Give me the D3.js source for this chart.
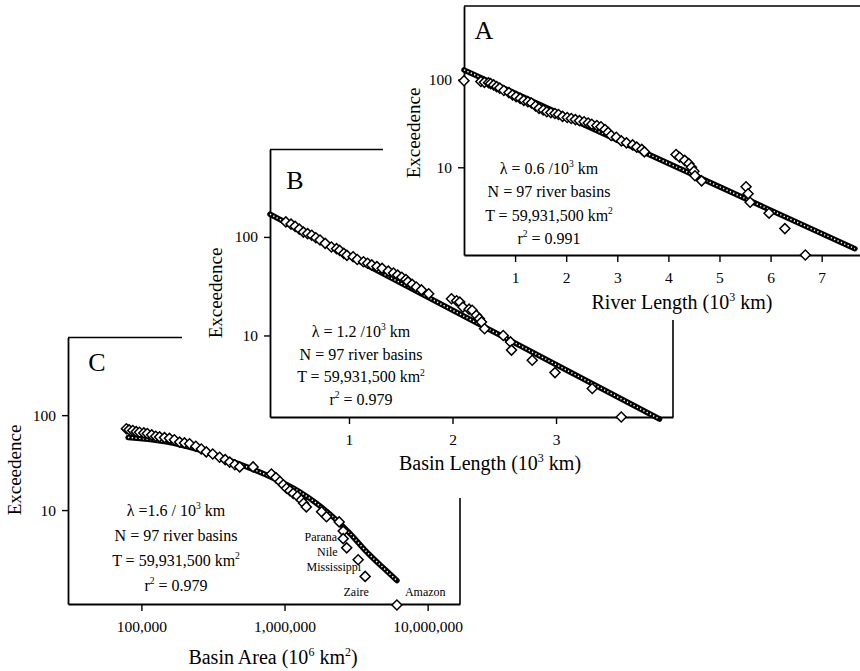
<!DOCTYPE html>
<html>
<head>
<meta charset="utf-8">
<script src="https://cdnjs.cloudflare.com/ajax/libs/d3/7.8.5/d3.min.js"></script>
<style>
body { margin: 0; background: white; }
svg { display: block; font-family: "Liberation Serif", "Times New Roman", serif; }
</style>
</head>
<body>
<svg width="860" height="671"></svg>
<script>
// ---- panel A : river length (10^3 km) vs exceedence
var riverLength = [0.00, 0.33, 0.40, 0.48, 0.52, 0.58, 0.64, 0.70, 0.78, 0.88, 0.95, 1.02, 1.10, 1.17, 1.25,
    1.32, 1.40, 1.47, 1.55, 1.62, 1.70, 1.78, 1.85, 1.93, 2.02, 2.10, 2.18, 2.26, 2.35, 2.43, 2.50, 2.60,
    2.68, 2.76, 2.82, 2.88, 2.98, 3.08, 3.18, 3.30, 3.38, 3.48, 3.53, 4.15, 4.22, 4.32, 4.40, 4.45, 4.50,
    4.52, 4.65, 5.52, 5.56, 5.60, 5.97, 6.28, 6.68]
var riverExceed = [97, 95, 93, 92, 90, 87, 83, 80, 75, 71, 67, 64, 61, 58, 56,
    54, 50, 47, 45, 43, 42, 41, 40, 38, 37, 36, 35, 34, 33, 32, 31, 30,
    29, 27, 25, 23, 22, 20, 19, 18, 17, 16, 15, 14, 13, 12, 11, 10, 9,
    8, 7, 6, 5, 4, 3, 2, 1]
var riverFitX = [0, 7.65]
var riverFitY = [129, 1.18]
var riverTicks = [1, 2, 3, 4, 5, 6, 7]

// ---- panel B : basin length (10^3 km)
var basinLength = [0.39, 0.44, 0.48, 0.52, 0.56, 0.60, 0.64, 0.68, 0.72, 0.77, 0.83, 0.88, 0.91, 0.95, 0.98,
    1.04, 1.08, 1.14, 1.18, 1.22, 1.27, 1.32, 1.38, 1.43, 1.47, 1.51, 1.55, 1.57, 1.61, 1.65, 1.70, 1.77,
    1.99, 2.04, 2.07, 2.10, 2.16, 2.19, 2.23, 2.26, 2.28, 2.31, 2.49, 2.56, 2.57, 2.77, 2.99, 3.35, 3.63]
var basinExceed = [142, 135, 128, 120, 112, 108, 104, 98, 93, 86, 79, 76, 73, 68, 65,
    63, 59, 56, 54, 52, 50, 48, 45, 43, 41, 39, 37, 35, 33, 31, 29, 26.5,
    23.6, 22.5, 21.8, 19.4, 18.5, 18, 16, 14.8, 13.7, 11.7, 10, 8.6, 7.1, 5.6, 4.2, 2.9, 1.49]
var basinFitX = [0.237, 4.0]
var basinFitY = [170, 1.42]
var basinTicks = [1, 2, 3]

// ---- panel C : basin area
var basinArea = [78500, 82000, 87000, 92000, 97000, 104000, 110000, 118000, 126000, 134000, 145000, 157000,
    170000, 185000, 200000, 217000, 240000, 262000, 284000, 315000, 352000, 385000, 414000, 450000, 486000,
    603000, 810000, 870000, 930000, 980000, 1033000, 1090000, 1150000, 1230000, 1310000, 1360000, 1420000,
    1815000, 1965000, 2410000, 2570000, 2570000, 2720000, 3270000, 3660000, 6100000]
var areaExceed = [72, 70, 69, 67, 66, 65, 64, 62, 60, 59, 58, 57,
    55, 52, 51, 50, 47, 44, 41, 39, 36, 34, 32, 30, 28.5,
    28.5, 24, 22, 20, 18.5, 17, 16, 15, 14, 12.8, 11.8, 10.8,
    9.6, 8.5, 7.5, 6, 5, 4, 3, 2, 1]
var areaFitX = [80700, 149000, 256000, 438000, 748000, 1275000, 1670000, 2175000, 2855000, 3740000, 4900000, 6100000]
var areaFitY = [58.2, 52.4, 42.8, 32.3, 23.4, 15.6, 11.8, 8.5, 5.7, 3.64, 2.46, 1.81]
var areaTicks = [100000, 1000000, 10000000]
var bigRivers = ["Parana", "Nile", "Mississippi", "Zaire", "Amazon"]
var bigRiverExceed = [5, 4, 3, 2, 1]

var exceedTicks = [10, 100]

var svg = d3.select("svg")

var zip = function(xs, ys)
{
    return xs.map(function(x, i) { return [x, ys[i]] })
}

// text with superscripts, "^" marks a raised piece
var addText = function(g, x, y, parts, size, anchor)
{
    var t = g.append("text")
        .attr("x", x).attr("y", y)
        .attr("font-size", size)
        .attr("text-anchor", anchor || "middle")
    var raised = false
    parts.forEach(function(s)
    {
        var sup = s[0] == "^"
        var ts = t.append("tspan").text(sup ? s.slice(1) : s)
        if (sup)
        {
            ts.attr("dy", -0.42 * size).attr("font-size", 0.6 * size)
            raised = true
        }
        else if (raised)
        {
            ts.attr("dy", 0.42 * size)
            raised = false
        }
    })
    return t
}

var drawPanel = function(p)
{
    var g = svg.append("g")

    var xscale = p.logX ? d3.scaleLog() : d3.scaleLinear()
    xscale.domain(p.xDomain).range([p.left, p.right])
    var yscale = d3.scaleLog().domain(p.yDomain).range([p.bottom, p.top])

    // bits of the box
    g.append("line")
        .attr("x1", p.left).attr("x2", p.topEnd)
        .attr("y1", p.top).attr("y2", p.top)
        .attr("stroke", "black").attr("stroke-width", 1.6)
    if (p.rightStart)
    {
        g.append("line")
            .attr("x1", p.right).attr("x2", p.right)
            .attr("y1", p.rightStart).attr("y2", p.bottom)
            .attr("stroke", "black").attr("stroke-width", 1.6)
    }

    var xaxis = d3.axisBottom(xscale)
        .tickValues(p.xTicks)
        .tickFormat(p.xFormat)
        .tickSize(7).tickSizeOuter(0).tickPadding(10)
    var yaxis = d3.axisLeft(yscale)
        .tickValues(exceedTicks)
        .tickFormat(d3.format("d"))
        .tickSize(6).tickSizeOuter(0).tickPadding(6)

    var gx = g.append("g").attr("transform", "translate(0," + p.bottom + ")").call(xaxis)
    var gy = g.append("g").attr("transform", "translate(" + p.left + ",0)").call(yaxis)
    ;[gx, gy].forEach(function(a)
    {
        a.select(".domain").attr("stroke-width", 1.8)
        a.selectAll(".tick line").attr("stroke-width", 1.4)
        a.selectAll("text")
            .attr("font-family", "Liberation Serif, serif")
            .attr("font-size", 15.5)
            .attr("fill", "black")
    })

    // fitted line, drawn as a beaded chain
    var line = d3.line()
        .x(function(d) { return xscale(d[0]) })
        .y(function(d) { return yscale(d[1]) })
        .curve(d3.curveMonotoneX)
    var fit = zip(p.fitX, p.fitY)
    g.append("path").attr("d", line(fit))
        .attr("fill", "none").attr("stroke", "black").attr("stroke-width", 5.5)
        .attr("stroke-linecap", "round")
    g.append("path").attr("d", line(fit))
        .attr("fill", "none").attr("stroke", "white").attr("stroke-width", 1.5)
        .attr("stroke-dasharray", "1.3 2.4")

    // observed basins
    var diamond = d3.symbol(d3.symbolSquare, 50)
    g.selectAll("path.pt")
        .data(zip(p.xs, p.ys))
        .enter()
        .append("path")
        .attr("class", "pt")
        .attr("d", diamond)
        .attr("transform", function(d)
        {
            return "translate(" + xscale(d[0]) + "," + yscale(d[1]) + ") rotate(45)"
        })
        .attr("fill", "white")
        .attr("stroke", "black")
        .attr("stroke-width", 1.5)

    // letter, stats, titles
    g.append("text").attr("x", p.letter[0]).attr("y", p.letter[1])
        .attr("font-size", 26).attr("text-anchor", "middle").text(p.name)

    p.stats.forEach(function(parts, i)
    {
        addText(g, p.statsX, p.statsY + i * p.statsGap, parts, 16)
    })

    addText(g, p.xTitle[0], p.xTitle[1], p.xTitleText, 20)
    g.append("text")
        .attr("transform", "translate(" + p.yTitle[0] + "," + p.yTitle[1] + ") rotate(-90)")
        .attr("font-size", 19).attr("text-anchor", "middle")
        .text("Exceedence")

    return {g: g, x: xscale, y: yscale}
}

var panelC = drawPanel({
    name: "C", logX: true,
    left: 68, right: 460, top: 337.5, bottom: 604, topEnd: 182, rightStart: 498,
    xDomain: [30700, 16830000], yDomain: [1.024, 658],
    xTicks: areaTicks, xFormat: d3.format(","),
    xs: basinArea, ys: areaExceed, fitX: areaFitX, fitY: areaFitY,
    letter: [97, 371],
    statsX: 176, statsY: 516, statsGap: 25,
    stats: [["λ =1.6 / 10", "^3", " km"], ["N = 97 river basins"], ["T = 59,931,500 km", "^2"], ["r", "^2", " = 0.979"]],
    xTitle: [273, 664], xTitleText: ["Basin Area (10", "^6", " km", "^2", ")"],
    yTitle: [21, 470]
})

var panelB = drawPanel({
    name: "B", logX: false,
    left: 270, right: 673, top: 149.5, bottom: 417, topEnd: 383, rightStart: 320,
    xDomain: [0.237, 4.13], yDomain: [1.488, 771],
    xTicks: basinTicks, xFormat: d3.format("d"),
    xs: basinLength, ys: basinExceed, fitX: basinFitX, fitY: basinFitY,
    letter: [295, 189],
    statsX: 361, statsY: 337, statsGap: 22.7,
    stats: [["λ = 1.2 /10", "^3", " km"], ["N = 97 river basins"], ["T = 59,931,500 km", "^2"], ["r", "^2", " = 0.979"]],
    xTitle: [490, 470], xTitleText: ["Basin Length (10", "^3", " km)"],
    yTitle: [222, 293]
})

var panelA = drawPanel({
    name: "A", logX: false,
    left: 464, right: 860, top: 6, bottom: 255, topEnd: 860, rightStart: null,
    xDomain: [0, 7.75], yDomain: [1, 690],
    xTicks: riverTicks, xFormat: d3.format("d"),
    xs: riverLength, ys: riverExceed, fitX: riverFitX, fitY: riverFitY,
    letter: [484, 39],
    statsX: 549, statsY: 174, statsGap: 23.3,
    stats: [["λ = 0.6 /10", "^3", " km"], ["N = 97 river basins"], ["T = 59,931,500 km", "^2"], ["r", "^2", " = 0.991"]],
    xTitle: [682, 309], xTitleText: ["River Length (10", "^3", " km)"],
    yTitle: [420, 133]
})

// named basins in panel C (label offsets from their points)
var labelOffsets = [[-6, 2, "end"], [-9, 8, "end"], [3, 11, "end"], [-9, 20, "middle"], [8, -9, "start"]]
bigRivers.forEach(function(name, i)
{
    var k = areaExceed.indexOf(bigRiverExceed[i])
    var px = panelC.x(basinArea[k])
    var py = panelC.y(bigRiverExceed[i])
    panelC.g.append("text")
        .attr("x", px + labelOffsets[i][0])
        .attr("y", py + labelOffsets[i][1])
        .attr("text-anchor", labelOffsets[i][2])
        .attr("font-size", 12)
        .text(name)
})
</script>
</body>
</html>
